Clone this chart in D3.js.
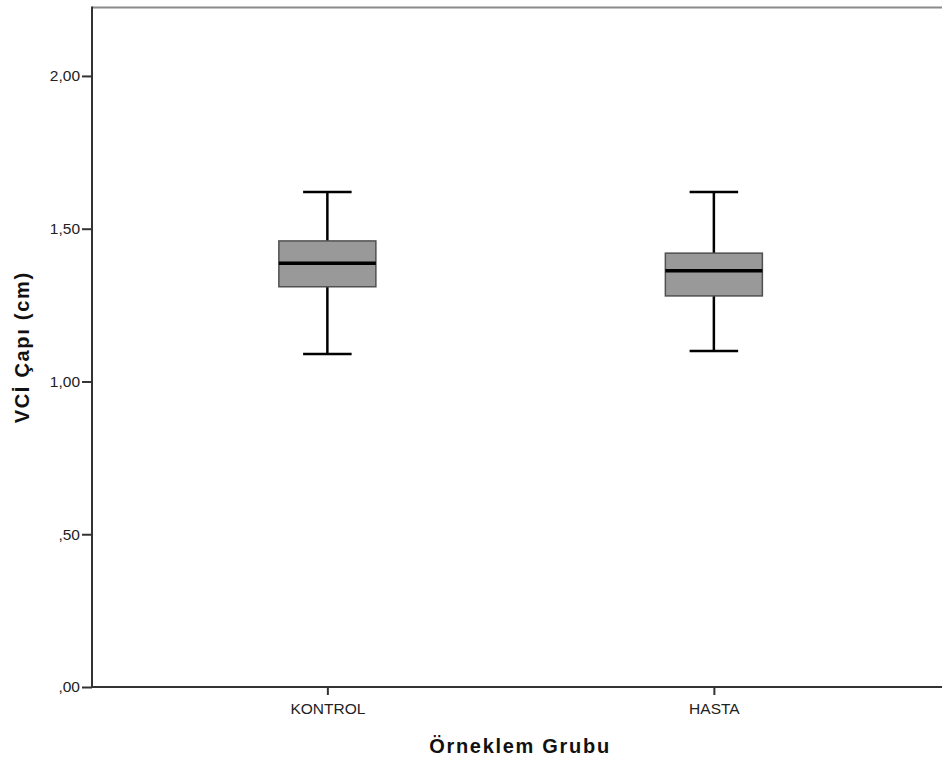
<!DOCTYPE html>
<html>
<head>
<meta charset="utf-8">
<script src="https://cdn.jsdelivr.net/npm/d3@7"></script>
<style>
  html, body { margin: 0; padding: 0; background: #fff; }
  svg { display: block; }
</style>
</head>
<body>
<script>
// ---- data ----
const categories = ["KONTROL", "HASTA"];
const whiskerLow  = [1.09, 1.10];
const q1          = [1.31, 1.28];
const median      = [1.387, 1.362];
const q3          = [1.46, 1.42];
const whiskerHigh = [1.62, 1.62];
const yTickValues = [0, 0.5, 1.0, 1.5, 2.0];
const yTickLabels = [",00", ",50", "1,00", "1,50", "2,00"];
const xTitle = "Örneklem Grubu";
const yTitle = "VCİ Çapı (cm)";

// ---- layout ----
const W = 942, H = 766;
const plotLeft = 92, plotRight = 942, plotTop = 7.5, plotBottom = 687;
const yMax = 2.224;

const svg = d3.select("body").append("svg").attr("width", W).attr("height", H);

const x = d3.scalePoint().domain(categories).range([plotLeft, 940]).padding(0.597).align(0.51);
const y = d3.scaleLinear().domain([0, yMax]).range([plotBottom, plotTop]);

const boxW = x.step() * 0.251;
const capW = boxW / 2;

const data = categories.map((c, i) => ({
  c, lo: whiskerLow[i], q1: q1[i], med: median[i], q3: q3[i], hi: whiskerHigh[i]
}));

// top frame line
svg.append("line")
  .attr("x1", plotLeft).attr("x2", plotRight)
  .attr("y1", plotTop).attr("y2", plotTop)
  .attr("stroke", "#8a8a8a").attr("stroke-width", 2);

// boxes
const g = svg.append("g");
const b = g.selectAll("g.box").data(data).join("g").attr("class", "box");

b.append("line")
  .attr("x1", d => x(d.c)).attr("x2", d => x(d.c))
  .attr("y1", d => y(d.hi)).attr("y2", d => y(d.q3))
  .attr("stroke", "#000").attr("stroke-width", 2.5);
b.append("line")
  .attr("x1", d => x(d.c)).attr("x2", d => x(d.c))
  .attr("y1", d => y(d.q1)).attr("y2", d => y(d.lo))
  .attr("stroke", "#000").attr("stroke-width", 2.5);
b.append("line")
  .attr("x1", d => x(d.c) - capW / 2).attr("x2", d => x(d.c) + capW / 2)
  .attr("y1", d => y(d.hi)).attr("y2", d => y(d.hi))
  .attr("stroke", "#000").attr("stroke-width", 2.5);
b.append("line")
  .attr("x1", d => x(d.c) - capW / 2).attr("x2", d => x(d.c) + capW / 2)
  .attr("y1", d => y(d.lo)).attr("y2", d => y(d.lo))
  .attr("stroke", "#000").attr("stroke-width", 2.5);
b.append("rect")
  .attr("x", d => x(d.c) - boxW / 2).attr("width", boxW)
  .attr("y", d => y(d.q3)).attr("height", d => y(d.q1) - y(d.q3))
  .attr("fill", "#999999").attr("stroke", "#505050").attr("stroke-width", 1.5);
b.append("line")
  .attr("x1", d => x(d.c) - boxW / 2).attr("x2", d => x(d.c) + boxW / 2)
  .attr("y1", d => y(d.med)).attr("y2", d => y(d.med))
  .attr("stroke", "#000").attr("stroke-width", 3.5);

// axes
const font = "'Liberation Sans', Arial, sans-serif";
const yAxis = d3.axisLeft(y).tickValues(yTickValues)
  .tickFormat((d, i) => yTickLabels[i]).tickSize(10).tickPadding(2);
const ya = svg.append("g").attr("transform", `translate(${plotLeft},0)`).call(yAxis);
ya.select(".domain").remove();
ya.selectAll(".tick line").attr("stroke", "#333").attr("stroke-width", 2);
ya.selectAll(".tick text").attr("font-family", font).attr("font-size", "15.5px").attr("fill", "#222");

const xAxis = d3.axisBottom(x).tickSize(8).tickPadding(8);
const xa = svg.append("g").attr("transform", `translate(0,${plotBottom})`).call(xAxis);
xa.select(".domain").remove();
xa.selectAll(".tick line").attr("stroke", "#333").attr("stroke-width", 2);
xa.selectAll(".tick text").attr("font-family", font).attr("font-size", "15.5px").attr("fill", "#222");

// axis lines
svg.append("line").attr("x1", plotLeft).attr("x2", plotLeft).attr("y1", plotTop - 1).attr("y2", plotBottom + 1)
  .attr("stroke", "#333").attr("stroke-width", 2);
svg.append("line").attr("x1", plotLeft - 1).attr("x2", plotRight).attr("y1", plotBottom).attr("y2", plotBottom)
  .attr("stroke", "#333").attr("stroke-width", 2);

// titles
svg.append("text")
  .attr("x", (plotLeft + 940) / 2 + 4).attr("y", 753)
  .attr("text-anchor", "middle")
  .attr("font-family", font).attr("font-weight", "bold").attr("font-size", "20px")
  .attr("letter-spacing", "1.7px").attr("fill", "#111")
  .text(xTitle);

svg.append("text")
  .attr("transform", `translate(29,${(plotTop + plotBottom) / 2}) rotate(-90)`)
  .attr("text-anchor", "middle")
  .attr("font-family", font).attr("font-weight", "bold").attr("font-size", "20px")
  .attr("letter-spacing", "1.7px").attr("fill", "#111")
  .text(yTitle);
</script>
</body>
</html>
